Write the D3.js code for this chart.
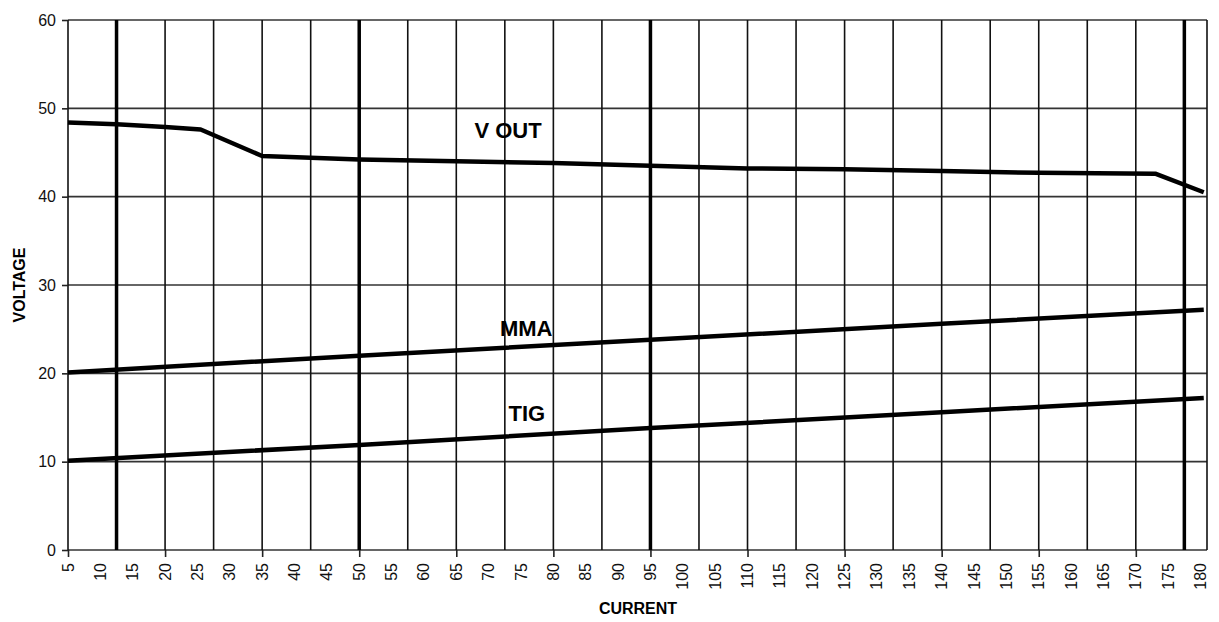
<!DOCTYPE html>
<html>
<head>
<meta charset="utf-8">
<script src="https://cdn.jsdelivr.net/npm/d3@7"></script>
<style>
  body { margin: 0; background: #fff; }
  text { font-family: "Liberation Sans", Arial, sans-serif; }
</style>
</head>
<body>
<div id="chart"></div>
<script>
// data
const vOutCurrent = [5, 12.5, 20, 25.5, 35, 50, 65, 80, 95, 110, 125, 140, 155, 173, 180.5];
const vOutVoltage = [48.4, 48.2, 47.9, 47.6, 44.6, 44.2, 44.0, 43.8, 43.5, 43.2, 43.1, 42.9, 42.7, 42.6, 40.5];
const mmaCurrent = [5, 50, 95, 140, 180.5];
const mmaVoltage = [20.1, 22.0, 23.8, 25.6, 27.2];
const tigCurrent = [5, 50, 95, 140, 180.5];
const tigVoltage = [10.1, 11.9, 13.8, 15.6, 17.2];
const xTickLabels = d3.range(5, 181, 5);
const xTickMarks = d3.range(5, 171, 15);
const yTicks = [0, 10, 20, 30, 40, 50, 60];
const gridX = d3.range(5, 178, 7.5);
const thickX = [12.5, 50, 95, 177.5];
const seriesLabels = [
  {name: 'V OUT', x: 73, y: 46.6},
  {name: 'MMA', x: 75.8, y: 24.2},
  {name: 'TIG', x: 75.9, y: 14.6}
];

let width = 1219, height = 622;
let margin = {top: 20, right: 12, bottom: 72, left: 68};

let svg = d3.select('#chart')
  .append('svg')
  .attr('width', width)
  .attr('height', height);

let x = d3.scaleLinear()
  .domain([5, 181])
  .range([margin.left, width - margin.right]);

let y = d3.scaleLinear()
  .domain([0, 60])
  .range([height - margin.bottom, margin.top]);

// horizontal grid
svg.append('g')
  .selectAll('line')
  .data(yTicks)
  .enter()
  .append('line')
  .attr('x1', x(5))
  .attr('x2', x(181))
  .attr('y1', d => y(d))
  .attr('y2', d => y(d))
  .attr('stroke', '#333')
  .attr('stroke-width', 1.6);

// vertical grid
svg.append('g')
  .selectAll('line')
  .data(gridX.concat([181]))
  .enter()
  .append('line')
  .attr('x1', d => x(d))
  .attr('x2', d => x(d))
  .attr('y1', y(0))
  .attr('y2', y(60))
  .attr('stroke', '#111')
  .attr('stroke-width', 1.6);

svg.append('g')
  .selectAll('line')
  .data(thickX)
  .enter()
  .append('line')
  .attr('x1', d => x(d))
  .attr('x2', d => x(d))
  .attr('y1', y(0))
  .attr('y2', y(60))
  .attr('stroke', '#000')
  .attr('stroke-width', 3.5);

// y axis
let yAxis = svg.append('g')
  .attr('transform', `translate(${margin.left}, 0)`)
  .call(d3.axisLeft(y).tickValues(yTicks).tickSize(6).tickPadding(6));
yAxis.select('.domain').remove();
yAxis.selectAll('line').attr('stroke', '#222').attr('stroke-width', 1.6);
yAxis.selectAll('text').style('font-size', '16px').attr('fill', '#111');

// x axis: tick marks every 15, labels every 5
let xMarks = svg.append('g')
  .attr('transform', `translate(0, ${y(0)})`)
  .call(d3.axisBottom(x).tickValues(xTickMarks).tickSize(7).tickFormat(''));
xMarks.select('.domain').remove();
xMarks.selectAll('line').attr('stroke', '#222').attr('stroke-width', 1.6);

svg.append('g')
  .selectAll('text')
  .data(xTickLabels)
  .enter()
  .append('text')
  .attr('transform', d => `translate(${x(d) + 5.5}, ${y(0) + 13}) rotate(-90)`)
  .attr('text-anchor', 'end')
  .style('font-size', '16px')
  .attr('fill', '#111')
  .text(d => d);

// axis titles
svg.append('text')
  .attr('x', 638)
  .attr('y', 614)
  .attr('text-anchor', 'middle')
  .style('font-size', '16px')
  .style('font-weight', 'bold')
  .text('CURRENT');

svg.append('text')
  .attr('transform', 'translate(25, 285) rotate(-90)')
  .attr('text-anchor', 'middle')
  .style('font-size', '16px')
  .style('font-weight', 'bold')
  .text('VOLTAGE');

// lines
let line = d3.line()
  .x(d => x(d[0]))
  .y(d => y(d[1]));

[[vOutCurrent, vOutVoltage], [mmaCurrent, mmaVoltage], [tigCurrent, tigVoltage]]
  .forEach(([cx, vy]) => {
    svg.append('path')
      .datum(d3.zip(cx, vy))
      .attr('d', line)
      .attr('fill', 'none')
      .attr('stroke', '#000')
      .attr('stroke-width', 4.5)
      .attr('stroke-linejoin', 'round');
  });

// series labels
svg.append('g')
  .selectAll('text')
  .data(seriesLabels)
  .enter()
  .append('text')
  .attr('x', d => x(d.x))
  .attr('y', d => y(d.y))
  .attr('text-anchor', 'middle')
  .style('font-size', '22px')
  .style('font-weight', 'bold')
  .text(d => d.name);
</script>
</body>
</html>
